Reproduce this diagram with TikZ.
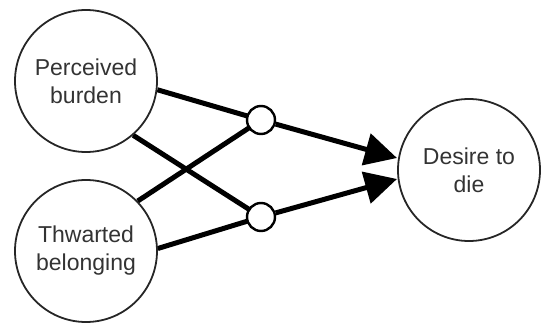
\documentclass[tikz,border=0pt]{standalone}
\usepackage{fontspec}
\setmainfont{Liberation Sans}
\usetikzlibrary{arrows.meta,backgrounds}
\begin{document}
\begin{tikzpicture}[x=1pt,y=-1pt,
  construct/.style={circle,draw=black!85,line width=1.8pt,minimum size=142pt,inner sep=0pt,
    align=center,text=black!80,font=\fontsize{23}{28}\selectfont},
  junction/.style={circle,draw=black,line width=2.4pt,fill=white,minimum size=28pt,inner sep=0pt},
  link/.style={line width=5pt,black},
  effect/.style={link,-{Triangle[length=32pt,width=32pt]}}]
\useasboundingbox (0,0) rectangle (541,326);
% constructs
\node[construct] (pb) at (86,81) {Perceived\\burden};
\node[construct] (tb) at (86,251) {Thwarted\\belonging};
\node[construct] (dd) at (469,170) {Desire to\\die};
% junction points
\node[junction] (s1) at (261,120) {};
\node[junction] (s2) at (261,217) {};
% arrow tip positions just short of the outcome circle
\coordinate (t1) at (397,158);
\coordinate (t2) at (397,179);
% interaction links, running behind the junction circles
\begin{scope}[on background layer]
  \draw[link] (pb.-7) -- (s1.center);
  \draw[link] (pb.-49) -- (s2.center);
  \draw[link] (tb.44) -- (s1.center);
  \draw[link] (tb.2) -- (s2.center);
\end{scope}
% effects on the outcome
\draw[effect] (s1) -- (t1);
\draw[effect] (s2) -- (t2);
\end{tikzpicture}
\end{document}
